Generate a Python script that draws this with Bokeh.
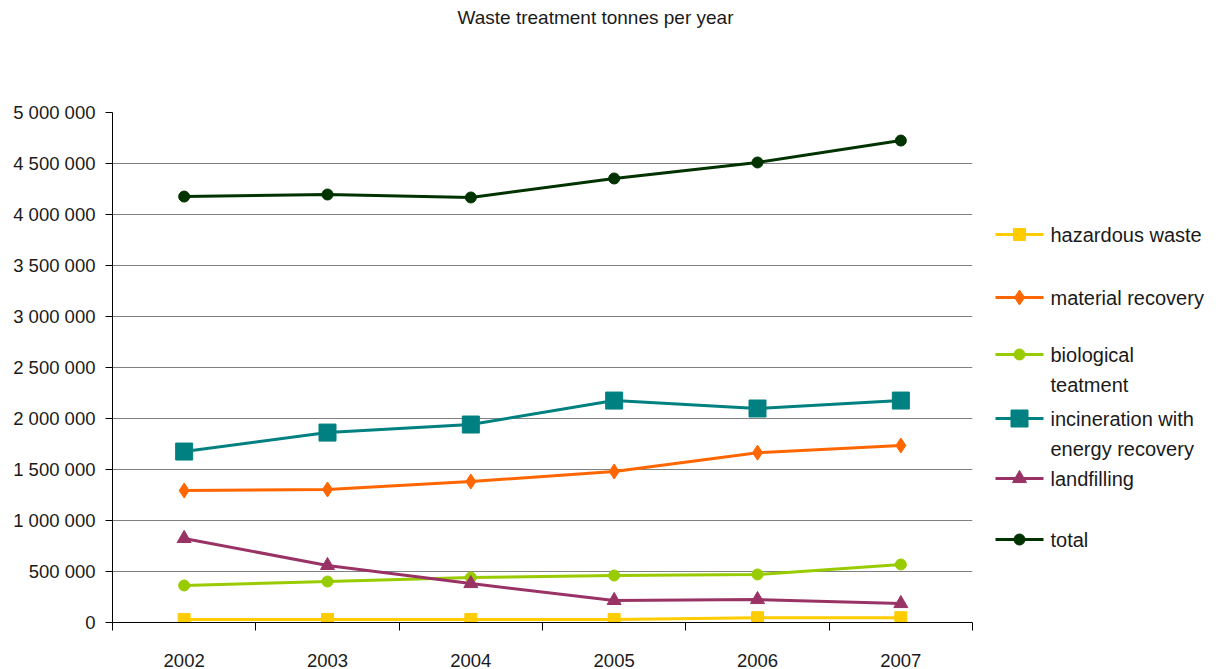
from bokeh.plotting import figure
from bokeh.layouts import row
from bokeh.models import Range1d, FixedTicker, Title
from bokeh.core.properties import value
from bokeh.embed import file_html
from bokeh.resources import INLINE

# ---- data -------------------------------------------------------------
years = ["2002", "2003", "2004", "2005", "2006", "2007"]

hazardous_waste = [29000, 29000, 29000, 29000, 47000, 47000]
material_recovery = [1294000, 1304000, 1382000, 1480000, 1665000, 1735000]
biological_treatment = [363000, 402000, 441000, 461000, 471000, 569000]
incineration_energy = [1676000, 1862000, 1941000, 2176000, 2098000, 2176000]
landfilling = [824000, 559000, 382000, 216000, 225000, 186000]
total = [4176000, 4196000, 4167000, 4353000, 4510000, 4725000]

y_ticks = [0, 500000, 1000000, 1500000, 2000000, 2500000,
           3000000, 3500000, 4000000, 4500000, 5000000]
y_tick_labels = ["0", "500 000", "1 000 000", "1 500 000", "2 000 000",
                 "2 500 000", "3 000 000", "3 500 000", "4 000 000",
                 "4 500 000", "5 000 000"]

series = [
    ("hazardous waste", hazardous_waste, "#FFCC00", "square", 12),
    ("material recovery", material_recovery, "#FF6600", "diamond", 15),
    ("biological\nteatment", biological_treatment, "#99CC00", "circle", 11),
    ("incineration with\nenergy recovery", incineration_energy, "#008080", "square", 17),
    ("landfilling", landfilling, "#993366", "triangle", 14),
    ("total", total, "#003300", "circle", 11),
]

FONT = "Liberation Sans"
TXT = "#1a1a1a"

# ---- main chart -------------------------------------------------------
x_pos = [i + 0.5 for i in range(len(years))]

p = figure(width=980, height=669, output_backend="svg", toolbar_location=None,
           x_range=Range1d(0, len(years)), y_range=Range1d(0, 5000000),
           min_border_left=112, min_border_right=8, min_border_top=112,
           min_border_bottom=47)
p.outline_line_color = None
p.background_fill_color = "white"

# blank spacer between the frame and the title, then the title itself,
# centred over the whole page rather than over the plot frame
p.add_layout(Title(text=" ", standoff=80, text_font_size="1px"), "above")
p.add_layout(Title(text="Waste treatment tonnes per year", align="left",
                   offset=345, standoff=0, vertical_align="top",
                   text_font=FONT, text_font_size="19px",
                   text_font_style="normal", text_color=TXT), "above")

p.xgrid.visible = False
p.ygrid.ticker = FixedTicker(ticks=y_ticks)
p.ygrid.grid_line_color = "#808080"
p.ygrid.grid_line_width = 1.2

p.xaxis.ticker = FixedTicker(ticks=x_pos, minor_ticks=list(range(len(years) + 1)))
p.xaxis.major_label_overrides = {x: y for x, y in zip(x_pos, years)}
p.xaxis.major_tick_out = 0
p.xaxis.major_tick_in = 0
p.xaxis.minor_tick_out = 8
p.xaxis.minor_tick_in = 0
p.xaxis.major_label_standoff = 23
p.xaxis.axis_line_color = "black"
p.xaxis.minor_tick_line_color = "black"

p.yaxis.ticker = FixedTicker(ticks=y_ticks, minor_ticks=[])
p.yaxis.major_label_overrides = {t: s for t, s in zip(y_ticks, y_tick_labels)}
p.yaxis.major_tick_out = 7
p.yaxis.major_tick_in = 0
p.yaxis.major_label_standoff = 10
p.yaxis.axis_line_color = "black"
p.yaxis.major_tick_line_color = "black"

for ax in (p.xaxis, p.yaxis):
    ax.major_label_text_font = FONT
    ax.major_label_text_font_size = "18.5px"
    ax.major_label_text_color = TXT

for name, vals, color, marker, size in series:
    p.line(x_pos, vals, line_color=color, line_width=3)
    p.scatter(x_pos, vals, marker=marker, size=size, fill_color=color,
              line_color=color)

# ---- legend panel -----------------------------------------------------
# its frame is aligned with the chart frame (rows 112..622 of the page)
leg = figure(width=247, height=669, output_backend="svg", toolbar_location=None,
             x_range=Range1d(0, 247), y_range=Range1d(622, 112),
             min_border=0)
leg.axis.visible = False
leg.grid.visible = False
leg.outline_line_color = None

row_y = [234, 297, 354, 418, 478, 539]
for (name, vals, color, marker, size), yy in zip(series, row_y):
    leg.line([15, 63], [yy, yy], line_color=color, line_width=3)
    leg.scatter([39], [yy], marker=marker, size=size, fill_color=color,
                line_color=color)
    for k, line in enumerate(name.split("\n")):
        leg.text([70], [yy + 30 * k], text=[line], text_baseline="middle",
                 text_font=value(FONT), text_font_size="20px", text_color=TXT)

layout = row(p, leg, spacing=0)
open("out.html", "w").write(file_html(layout, INLINE))
